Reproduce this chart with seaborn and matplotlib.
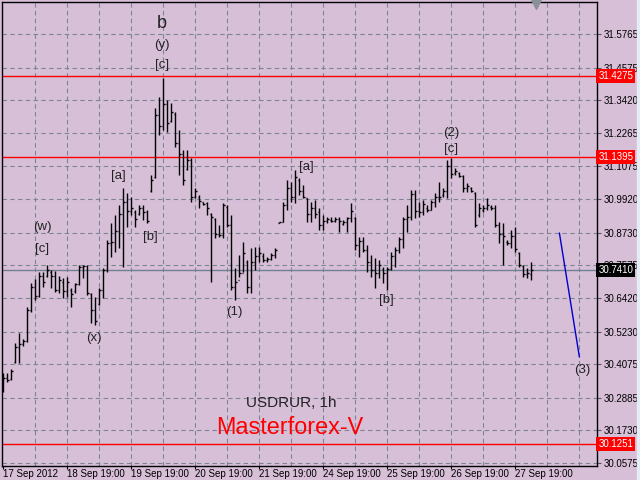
import numpy as np
import pandas as pd
import seaborn as sns
import matplotlib.pyplot as plt
from matplotlib.patches import Rectangle

# hourly USDRUR bars, 17-27 Sep 2012
highs = [30.376, 30.376, 30.390, 30.482, 30.518, 30.497, 30.610, 30.695, 30.709, 30.734,
         30.734, 30.759, 30.741, 30.737, 30.720, 30.713, 30.716, 30.677, 30.695, 30.759,
         30.759, 30.759, 30.660, 30.645, 30.677, 30.748, 30.847, 30.907, 30.936, 30.971,
         31.031, 31.014, 30.999, 30.953, 30.971, 30.971, 30.953, 31.077, 31.315, 31.354,
         31.421, 31.343, 31.332, 31.300, 31.237, 31.166, 31.166, 31.137, 31.031, 31.006,
         30.982, 30.982, 30.943, 30.925, 30.900, 30.978, 30.971, 30.936, 30.748, 30.794,
         30.840, 30.776, 30.819, 30.822, 30.822, 30.801, 30.787, 30.801, 30.819, 30.911,
         30.982, 31.060, 31.053, 31.095, 31.067, 31.042, 30.996, 30.982, 30.989, 30.960,
         30.936, 30.929, 30.929, 30.929, 30.929, 30.918, 30.929, 30.978, 30.929, 30.858,
         30.858, 30.830, 30.794, 30.783, 30.776, 30.752, 30.752, 30.805, 30.822, 30.858,
         30.929, 30.971, 31.024, 31.024, 30.982, 30.989, 30.971, 30.989, 31.014, 31.053,
         31.031, 31.130, 31.137, 31.102, 31.088, 31.077, 31.049, 31.035, 31.017, 30.978,
         30.971, 30.996, 30.971, 30.971, 30.911, 30.907, 30.847, 30.883, 30.893, 30.805,
         30.759, 30.748, 30.769]
lows = [30.309, 30.344, 30.351, 30.412, 30.412, 30.472, 30.486, 30.592, 30.635, 30.645,
        30.681, 30.716, 30.677, 30.663, 30.660, 30.642, 30.645, 30.610, 30.660, 30.688,
        30.713, 30.652, 30.553, 30.546, 30.617, 30.642, 30.734, 30.787, 30.805, 30.819,
        30.752, 30.893, 30.936, 30.893, 30.936, 30.918, 30.907, 31.017, 31.067, 31.219,
        31.237, 31.230, 31.265, 31.176, 31.077, 31.042, 31.095, 30.982, 30.996, 30.960,
        30.971, 30.936, 30.698, 30.854, 30.858, 30.854, 30.893, 30.670, 30.635, 30.716,
        30.734, 30.660, 30.660, 30.741, 30.769, 30.769, 30.769, 30.776, 30.783, 30.907,
        30.911, 30.953, 30.982, 30.978, 31.006, 30.996, 30.911, 30.911, 30.925, 30.883,
        30.883, 30.907, 30.911, 30.911, 30.876, 30.900, 30.876, 30.911, 30.812, 30.787,
        30.805, 30.734, 30.716, 30.677, 30.713, 30.695, 30.670, 30.741, 30.752, 30.801,
        30.819, 30.876, 30.918, 30.925, 30.929, 30.936, 30.946, 30.953, 30.964, 30.982,
        30.999, 30.996, 31.067, 31.077, 31.070, 31.017, 31.017, 31.017, 30.893, 30.929,
        30.946, 30.953, 30.953, 30.893, 30.837, 30.759, 30.830, 30.819, 30.805, 30.752,
        30.716, 30.713, 30.706]
opens = [30.320, 30.360, 30.355, 30.415, 30.470, 30.480, 30.490, 30.600, 30.680, 30.650,
         30.720, 30.720, 30.735, 30.720, 30.670, 30.700, 30.665, 30.670, 30.665, 30.690,
         30.750, 30.755, 30.655, 30.600, 30.620, 30.670, 30.740, 30.835, 30.840, 30.880,
         30.940, 30.980, 30.950, 30.945, 30.940, 30.960, 30.945, 31.020, 31.070, 31.290,
         31.250, 31.330, 31.270, 31.295, 31.190, 31.150, 31.100, 31.130, 31.000, 31.000,
         30.980, 30.978, 30.940, 30.920, 30.870, 30.865, 30.965, 30.900, 30.680, 30.705,
         30.730, 30.770, 30.680, 30.770, 30.790, 30.790, 30.775, 30.780, 30.795, 30.907,
         30.911, 30.970, 31.030, 31.000, 31.060, 31.020, 30.995, 30.940, 30.960, 30.945,
         30.900, 30.915, 30.918, 30.915, 30.920, 30.905, 30.912, 30.925, 30.925, 30.830,
         30.845, 30.810, 30.770, 30.740, 30.730, 30.745, 30.730, 30.745, 30.790, 30.810,
         30.850, 30.920, 30.930, 31.010, 30.950, 30.945, 30.960, 30.955, 30.980, 31.000,
         31.005, 31.020, 31.110, 31.085, 31.085, 31.075, 31.030, 31.030, 31.015, 30.935,
         30.955, 30.960, 30.965, 30.960, 30.900, 30.870, 30.840, 30.835, 30.860, 30.800,
         30.755, 30.725, 30.725]
closes = [30.360, 30.350, 30.385, 30.470, 30.480, 30.490, 30.600, 30.680, 30.650, 30.720,
          30.700, 30.740, 30.720, 30.670, 30.705, 30.665, 30.700, 30.655, 30.690, 30.750,
          30.755, 30.660, 30.600, 30.560, 30.670, 30.740, 30.835, 30.840, 30.880, 30.940,
          30.980, 30.950, 30.960, 30.920, 30.960, 30.945, 30.915, 31.060, 31.290, 31.250,
          31.330, 31.260, 31.300, 31.190, 31.150, 31.060, 31.130, 31.000, 31.020, 30.985,
          30.975, 30.960, 30.930, 30.870, 30.865, 30.970, 30.900, 30.680, 30.700, 30.730,
          30.800, 30.680, 30.770, 30.790, 30.800, 30.775, 30.780, 30.795, 30.810, 30.910,
          30.970, 31.030, 31.000, 31.070, 31.020, 31.000, 30.940, 30.960, 30.940, 30.900,
          30.915, 30.920, 30.915, 30.922, 30.915, 30.912, 30.925, 30.950, 30.830, 30.845,
          30.810, 30.770, 30.740, 30.730, 30.760, 30.730, 30.745, 30.790, 30.810, 30.850,
          30.920, 30.930, 31.010, 30.950, 30.945, 30.975, 30.955, 30.980, 31.000, 31.000,
          31.020, 31.110, 31.080, 31.090, 31.075, 31.030, 31.040, 31.020, 30.900, 30.960,
          30.960, 30.970, 30.960, 30.900, 30.870, 30.860, 30.835, 30.860, 30.815, 30.760,
          30.725, 30.730, 30.741]

# projected wave (3)
wave_bar = [139, 144]
wave_price = [30.872, 30.433]

y_ticks = [31.5765, 31.4575, 31.3420, 31.2265, 31.1075, 30.9920, 30.8730,
           30.7575, 30.6420, 30.5230, 30.4075, 30.2885, 30.1730, 30.0575]
date_bars = [0, 16, 32, 48, 64, 80, 96, 112, 128]
date_labels = ['17 Sep 2012', '18 Sep 19:00', '19 Sep 19:00', '20 Sep 19:00',
               '21 Sep 19:00', '24 Sep 19:00', '25 Sep 19:00', '26 Sep 19:00',
               '27 Sep 19:00']
red_levels = [31.4275, 31.1395, 30.1251]
last_price = 30.7410

wave_labels = [('b', 39.7, 31.615, 13), ('(y)', 39.7, 31.538, 9.5), ('[c]', 39.7, 31.467, 9.5),
               ('[a]', 28.7, 31.074, 9.5), ('[b]', 36.7, 30.858, 9.5),
               ('(w)', 9.7, 30.893, 9.5), ('[c]', 9.7, 30.815, 9.5), ('(x)', 22.7, 30.500, 9.5),
               ('(1)', 57.7, 30.592, 9.5), ('[a]', 75.7, 31.106, 9.5), ('[b]', 95.7, 30.635, 9.5),
               ('(2)', 111.9, 31.226, 9.5), ('[c]', 111.9, 31.169, 9.5), ('(3)', 144.7, 30.387, 9.5)]

bg = '#d8bfd8'
sns.set_theme(style='white', rc={'axes.facecolor': bg, 'figure.facecolor': bg})
plt.rcParams['font.family'] = ['Liberation Sans', 'DejaVu Sans']

fig = plt.figure(figsize=(6.4, 4.8), dpi=100)
ax = fig.add_axes([2 / 640, 14 / 480, 595 / 640, 464 / 480])
fig.patches.append(Rectangle((637 / 640, 0), 3 / 640, 1, transform=fig.transFigure,
                             color='#e4ecf6', zorder=0))

df = pd.DataFrame({'high': highs, 'low': lows, 'open': opens, 'close': closes})
df['bar'] = np.arange(len(df))

grid_kw = dict(color='#7c8590', lw=0.8, ls=(0, (4, 3)), zorder=0.5)
for b in range(8, 149, 8):
    ax.axvline(b, **grid_kw)
for t in y_ticks:
    ax.axhline(t, **grid_kw)

for lv in red_levels:
    ax.axhline(lv, color='#ff0000', lw=1.0, zorder=1)
ax.axhline(last_price, color='#708090', lw=1.0, zorder=1)

ax.vlines(df['bar'], df['low'], df['high'], color='black', lw=1.0, zorder=2)
ax.hlines(df['open'], df['bar'] - 0.4, df['bar'], color='black', lw=1.0, zorder=2)
ax.hlines(df['close'], df['bar'], df['bar'] + 0.4, color='black', lw=1.0, zorder=2)

sns.lineplot(x=wave_bar, y=wave_price, color='#0000cd', lw=1.0, ax=ax, zorder=2)

for txt, bx, py, fs in wave_labels:
    ax.text(bx, py, txt, ha='center', va='center', fontsize=fs, color='#222222')

fig.text(291 / 640, 1 - 403 / 480, 'USDRUR, 1h', ha='center', va='center',
         fontsize=11, color='#222222')
fig.text(290 / 640, 1 - 428 / 480, 'Masterforex-V', ha='center', va='center',
         fontsize=16.8, color='#ff0000')

ax.plot([133.2], [31.681], marker='v', color='#8a9098', ms=7, clip_on=False, zorder=3)

ax.set_xlim(-0.325, 148.4)
ax.set_ylim(30.0469, 31.6898)

ax.yaxis.tick_right()
ax.set_yticks(y_ticks)
ax.set_yticklabels([f'{t:.4f}' for t in y_ticks])
ax.set_xticks(date_bars)
ax.set_xticklabels(date_labels, ha='left')
ax.tick_params(axis='y', direction='out', length=3, width=0.8, color='#555555',
               labelsize=7, pad=2, labelcolor='black', right=True, left=False)
ax.tick_params(axis='x', direction='out', length=2, width=0.8, color='black',
               labelsize=7, pad=0.5, labelcolor='black', bottom=True)
for lbl in ax.get_xticklabels():
    lbl.set_horizontalalignment('left')

for s in ax.spines.values():
    s.set_color('black')
    s.set_linewidth(1.0)

box_tr = ax.get_yaxis_transform()
for lv in red_levels:
    ax.text(1.002, lv, f'{lv:.4f}', transform=box_tr, ha='left', va='center', fontsize=7,
            color='white', clip_on=False, zorder=5,
            bbox=dict(boxstyle='square,pad=0.2', fc='#ff0000', ec='none'))
ax.text(1.002, last_price, f'{last_price:.4f}', transform=box_tr, ha='left', va='center',
        fontsize=7, color='white', clip_on=False, zorder=5,
        bbox=dict(boxstyle='square,pad=0.2', fc='black', ec='none'))

ax.set_xlabel('')
ax.set_ylabel('')
fig.savefig('out.png', dpi=100, facecolor=bg)
